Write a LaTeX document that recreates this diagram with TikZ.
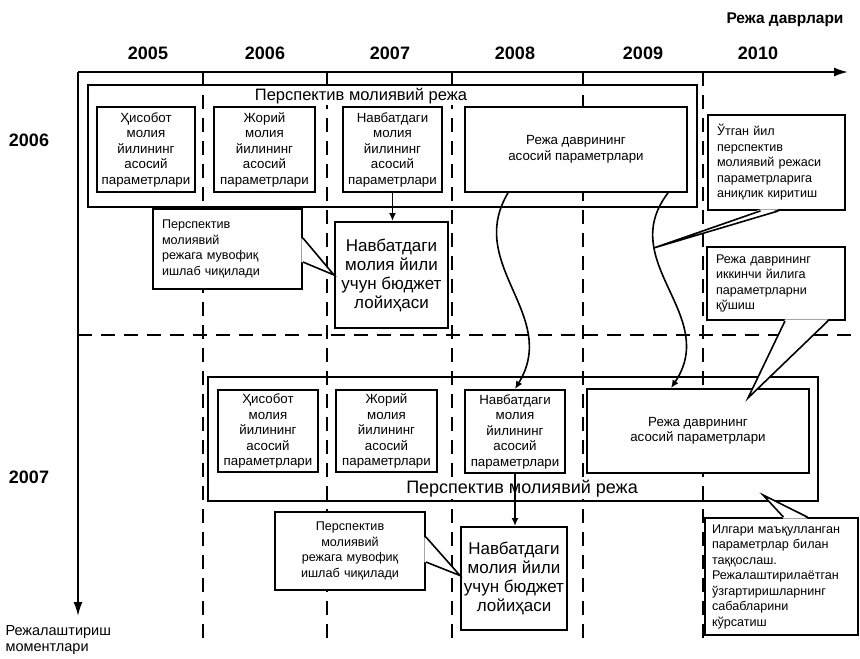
\documentclass[tikz,border=0pt]{standalone}
\usepackage{fontspec}
\setmainfont{Liberation Sans}
\usetikzlibrary{arrows.meta}

\tikzset{
  grid/.style={line width=1.8pt, dash pattern=on 14pt off 9pt},
  axis/.style={line width=1.8pt, -{Latex[length=14pt,width=9pt]}},
  frame/.style={line width=1.9pt},
  yearlab/.style={font=\fontsize{18}{20}\selectfont\bfseries},
  plantitle/.style={fill=white, inner sep=1pt, font=\fontsize{16.5}{18}\selectfont},
  parbox/.style={draw, fill=white, line width=1.8pt, inner sep=0pt, align=center, font=\fontsize{13.3}{15.5}\selectfont},
  budget/.style={draw, fill=white, line width=2pt, inner sep=0pt, align=center, font=\fontsize{17}{19}\selectfont},
  note/.style={draw, fill=white, line width=1.8pt, inner xsep=9pt, inner ysep=0pt, align=left, font=\fontsize{12.6}{15.5}\selectfont},
  link/.style={line width=1.6pt, -{Latex[length=8pt,width=7pt]}},
  pointer/.style={line width=1.6pt}
}

\begin{document}
\begin{tikzpicture}[x=1pt,y=-1pt]
\useasboundingbox (0,0) rectangle (860,659);

% axes and year grid
\coordinate (O) at (78,72);
\coordinate (xend) at (848,72);
\coordinate (yend) at (78,616);
\foreach \x in {203,327,452,583,703}
  \draw[grid] (\x,72) -- (\x,640);
\draw[grid] (78,335) -- (856,335);
\draw[axis] (O) -- (xend);
\draw[axis] (O) -- (yend);
\foreach \x/\yr in {148/2005,265/2006,390/2007,515/2008,643/2009,758/2010}
  \node[yearlab] (yr\yr) at (\x,53) {\yr};
\node[font=\fontsize{15.5}{17}\selectfont\bfseries] (periods) at (785,20) {Режа даврлари};
\node[yearlab] (mom2006) at (29,140) {2006};
\node[yearlab] (mom2007) at (29,477) {2007};
\node[anchor=west, align=left, font=\fontsize{14.5}{15.5}\selectfont] (moments) at (2,640) {Режалаштириш\\моментлари};

% plan made in 2006
\draw[frame] (88,85) rectangle (697,207);
\node[plantitle] (plan1) at (361,96) {Перспектив молиявий режа};
\node[parbox, minimum width=98pt, minimum height=85pt] (b1) at (146,149.5) {Ҳисобот\\молия\\йилининг\\асосий\\параметрлари};
\node[parbox, minimum width=101pt, minimum height=85pt] (b2) at (264.5,149.5) {Жорий\\молия\\йилининг\\асосий\\параметрлари};
\node[parbox, minimum width=99pt, minimum height=85pt] (b3) at (392.5,149.5) {Навбатдаги\\молия\\йилининг\\асосий\\параметрлари};
\node[parbox, minimum width=222pt, minimum height=85pt] (b4) at (576,149.5) {Режа даврининг\\асосий параметрлари};
\node[budget, minimum width=113pt, minimum height=106pt] (budget1) at (391.5,275) {Навбатдаги\\молия йили\\учун бюджет\\лойиҳаси};

% plan made in 2007
\draw[frame] (208,377) rectangle (818,501);
\node[plantitle, font=\fontsize{18}{20}\selectfont] (plan2) at (522,489) {Перспектив молиявий режа};
\node[parbox, minimum width=100pt, minimum height=82pt] (lb1) at (268,431) {Ҳисобот\\молия\\йилининг\\асосий\\параметрлари};
\node[parbox, minimum width=101pt, minimum height=82pt] (lb2) at (386.5,431) {Жорий\\молия\\йилининг\\асосий\\параметрлари};
\node[parbox, minimum width=100pt, minimum height=83pt] (lb3) at (515,431.5) {Навбатдаги\\молия\\йилининг\\асосий\\параметрлари};
\node[parbox, minimum width=222pt, minimum height=84pt] (lb4) at (698,431) {Режа даврининг\\асосий параметрлари};
\node[budget, minimum width=106pt, minimum height=103pt] (budget2) at (514,578.5) {Навбатдаги\\молия йили\\учун бюджет\\лойиҳаси};

% links between the plans
\draw[link] (b3.south) -- (b3.south |- budget1.north);
\draw[link] (lb3.south) -- (lb3.south |- budget2.north);
\draw[link] ([xshift=-68pt]b4.south) .. controls (465,265) and (560,315) .. (lb3.north);
\draw[link] ([xshift=92pt]b4.south) .. controls (615,262) and (720,315) .. ([xshift=-27pt]lb4.north)
  coordinate[pos=0.28] (tipnew);
\coordinate (tipadd) at (748,398);
\coordinate (tipcmp) at (763,495);

% notes
\node[note, text width=131pt, minimum height=80pt] (draft1) at (227.5,249) {Перспектив\\молиявий\\режага мувофиқ\\ишлаб чиқилади};
\fill[white] ([xshift=-1.5pt,yshift=11pt]draft1.east) -- (budget1.west) -- ([xshift=-1.5pt,yshift=-13pt]draft1.east) -- cycle;
\draw[pointer] ([yshift=11pt]draft1.east) -- (budget1.west) -- ([yshift=-13pt]draft1.east);

\node[note, align=center, text width=132pt, minimum height=78pt] (draft2) at (350,551) {Перспектив\\молиявий\\режага мувофиқ\\ишлаб чиқилади};
\fill[white] ([xshift=-1.5pt,yshift=14pt]draft2.east) -- ([yshift=3pt]budget2.west) -- ([xshift=-1.5pt,yshift=-11pt]draft2.east) -- cycle;
\draw[pointer] ([yshift=14pt]draft2.east) -- ([yshift=3pt]budget2.west) -- ([yshift=-11pt]draft2.east);

\node[note, text width=119pt, minimum height=95pt] (renew) at (776.5,162.5) {Ўтган йил\\перспектив\\молиявий режаси\\параметрларига\\аниқлик киритиш};
\fill[white] ([xshift=-16pt,yshift=1.5pt]renew.south) -- (tipnew) -- ([xshift=2pt,yshift=1.5pt]renew.south) -- cycle;
\draw[pointer] ([xshift=-16pt]renew.south) -- (tipnew) -- ([xshift=2pt]renew.south);

\node[note, text width=120pt, minimum height=73pt] (addyear) at (776,283.5) {Режа даврининг\\иккинчи йилига\\параметрларни\\қўшиш};
\fill[white] ([xshift=9pt,yshift=1.5pt]addyear.south) -- (tipadd) -- ([xshift=52pt,yshift=1.5pt]addyear.south) -- cycle;
\draw[pointer] ([xshift=9pt]addyear.south) -- (tipadd) -- ([xshift=52pt]addyear.south);

\node[note, text width=139pt, inner xsep=7pt, minimum height=117pt] (compare) at (781.5,576.5) {Илгари маъқулланган\\параметрлар билан\\таққослаш.\\Режалаштирилаётган\\ўзгартиришларнинг\\сабабларини\\кўрсатиш};
\fill[white] ([xshift=2pt,yshift=-1.5pt]compare.north) -- (tipcmp) -- ([xshift=26pt,yshift=-1.5pt]compare.north) -- cycle;
\draw[pointer] ([xshift=2pt]compare.north) -- (tipcmp) -- ([xshift=26pt]compare.north);
\end{tikzpicture}
\end{document}
